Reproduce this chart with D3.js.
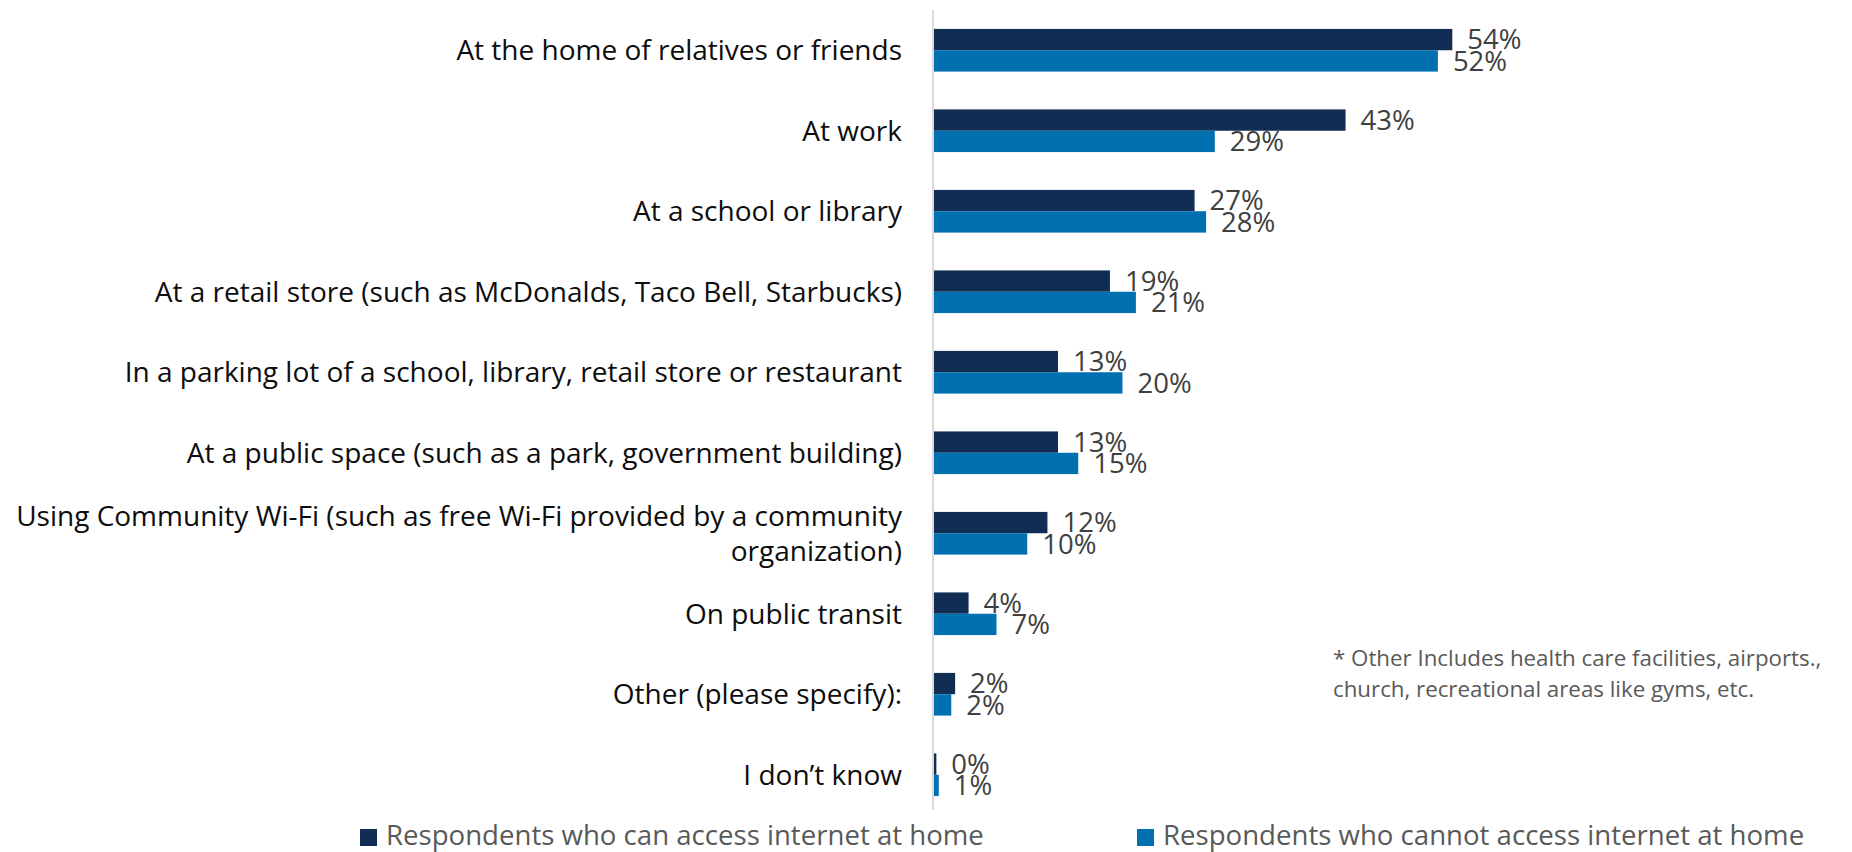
<!DOCTYPE html>
<html>
<head>
<meta charset="utf-8">
<script src="https://cdn.jsdelivr.net/npm/d3@7"></script>
<style>
  html, body { margin: 0; padding: 0; background: #ffffff; }
  svg { display: block; }
</style>
</head>
<body>
<script>
// ---- data ----
const categories = [
  "At the home of relatives or friends",
  "At work",
  "At a school or library",
  "At a retail store (such as McDonalds, Taco Bell, Starbucks)",
  "In a parking lot of a school, library, retail store or restaurant",
  "At a public space (such as a park, government building)",
  "Using Community Wi-Fi (such as free Wi-Fi provided by a community|organization)",
  "On public transit",
  "Other (please specify):",
  "I don\u2019t know"
];
const seriesNames = [
  "Respondents who can access internet at home",
  "Respondents who cannot access internet at home"
];
const canAccess    = [54.0, 42.9, 27.2, 18.4, 13.0, 13.0, 11.9, 3.7, 2.3, 0.35];
const cannotAccess = [52.5, 29.3, 28.4, 21.1, 19.7, 15.1, 9.8, 6.6, 1.9, 0.6];
const canLabels    = ["54%", "43%", "27%", "19%", "13%", "13%", "12%", "4%", "2%", "0%"];
const cannotLabels = ["52%", "29%", "28%", "21%", "20%", "15%", "10%", "7%", "2%", "1%"];
const footnoteLines = [
  "* Other Includes health care facilities, airports.,",
  "church, recreational areas like gyms, etc."
];

// ---- layout ----
const W = 1852, H = 852;
const colors = ["#122D54", "#0070B0"];
const font = "'Open Sans', 'Noto Sans', sans-serif";

const svg = d3.select("body").append("svg")
  .attr("width", W).attr("height", H);

const x = d3.scaleLinear().domain([0, 60]).range([933, 1510]);
const y = d3.scaleBand().domain(categories).range([10, 815])
  .paddingInner(0.47).paddingOuter(0.235);
const sub = d3.scaleBand().domain([0, 1]).range([0, y.bandwidth()]);

const rows = categories.map((c, i) => ({
  cat: c,
  vals: [
    { s: 0, v: canAccess[i], label: canLabels[i] },
    { s: 1, v: cannotAccess[i], label: cannotLabels[i] }
  ]
}));

// axis line
svg.append("line")
  .attr("x1", x(0)).attr("x2", x(0))
  .attr("y1", y.range()[0]).attr("y2", 810)
  .attr("stroke", "#D9D9D9").attr("stroke-width", 2);

const g = svg.selectAll("g.row").data(rows).join("g")
  .attr("class", "row")
  .attr("transform", d => `translate(0,${y(d.cat)})`);

g.selectAll("rect").data(d => d.vals).join("rect")
  .attr("x", x(0) + 1)
  .attr("y", d => sub(d.s))
  .attr("width", d => Math.max(0, x(d.v) - x(0) - 1))
  .attr("height", sub.bandwidth())
  .attr("fill", d => colors[d.s]);

g.selectAll("text.val").data(d => d.vals).join("text")
  .attr("class", "val")
  .attr("x", d => x(d.v) + 15)
  .attr("y", d => sub(d.s) + sub.bandwidth() / 2)
  .attr("dy", "0.36em")
  .attr("font-family", font)
  .attr("font-size", 27.5)
  .attr("fill", "#404040")
  .text(d => d.label);

// category labels
const catText = svg.selectAll("text.cat").data(categories).join("text")
  .attr("class", "cat")
  .attr("text-anchor", "end")
  .attr("font-family", font)
  .attr("font-size", 28)
  .attr("fill", "#0D0D0D");
catText.each(function(d) {
  const lines = d.split("|");
  const cy = y(d) + y.bandwidth() / 2;
  const lh = 35;
  const t = d3.select(this);
  lines.forEach((ln, j) => {
    t.append("tspan")
      .attr("x", 902)
      .attr("y", cy + (j - (lines.length - 1) / 2) * lh)
      .attr("dy", "0.35em")
      .text(ln);
  });
});

// footnote
svg.append("text")
  .attr("font-family", font)
  .attr("font-size", 22.3)
  .attr("fill", "#595959")
  .selectAll("tspan").data(footnoteLines).join("tspan")
  .attr("x", 1333)
  .attr("y", (d, i) => 666 + i * 31)
  .text(d => d);

// legend
const legendX = [360, 1137];
const lg = svg.selectAll("g.leg").data(seriesNames).join("g")
  .attr("class", "leg")
  .attr("transform", (d, i) => `translate(${legendX[i]},829)`);
lg.append("rect").attr("width", 17).attr("height", 17)
  .attr("fill", (d, i) => colors[i]);
lg.append("text").attr("x", 26).attr("y", 16)
  .attr("font-family", font).attr("font-size", 27.6)
  .attr("fill", "#595959")
  .text(d => d);
</script>
</body>
</html>
